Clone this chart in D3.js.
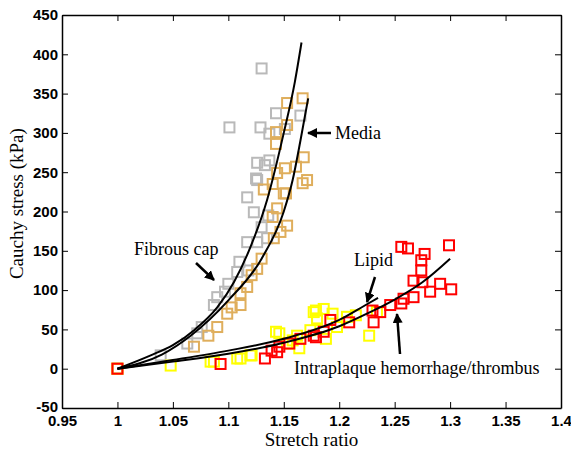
<!DOCTYPE html>
<html>
<head>
<meta charset="utf-8">
<script src="https://cdn.jsdelivr.net/npm/d3@7"></script>
<style>
  body { margin: 0; background: #fff; }
  svg text { fill: #000; }
</style>
</head>
<body>
<svg id="chart" width="571" height="452"></svg>
<script>
// x ticks and y ticks
const xTicks = [0.95, 1, 1.05, 1.1, 1.15, 1.2, 1.25, 1.3, 1.35, 1.4];
const yTicks = [-50, 0, 50, 100, 150, 200, 250, 300, 350, 400, 450];

// measured points [stretch, stress]
const fibrousCap = [
  [1.0, 0], [1.039, 17], [1.063, 32], [1.072, 45], [1.076, 53], [1.087, 81], [1.090, 91],
  [1.097, 98], [1.100, 108], [1.108, 123], [1.118, 125], [1.110, 136], [1.117, 161],
  [1.126, 161], [1.135, 166], [1.130, 180], [1.136, 195], [1.123, 199], [1.117, 218],
  [1.126, 240], [1.125, 242], [1.133, 259], [1.126, 262], [1.137, 265], [1.137, 299],
  [1.151, 305], [1.101, 307], [1.129, 307], [1.165, 322], [1.143, 325], [1.130, 382]
];
const media = [
  [1.0, 0], [1.069, 28], [1.082, 42], [1.090, 53], [1.099, 70], [1.103, 78], [1.111, 81],
  [1.111, 96], [1.117, 104], [1.121, 119], [1.126, 127], [1.130, 140], [1.141, 166],
  [1.147, 174], [1.153, 182], [1.140, 193], [1.144, 204], [1.150, 223], [1.152, 223],
  [1.132, 228], [1.140, 235], [1.167, 236], [1.171, 240], [1.144, 249], [1.151, 255],
  [1.161, 257], [1.168, 269], [1.143, 286], [1.143, 301], [1.153, 310], [1.153, 338],
  [1.167, 344]
];
const lipid = [
  [1.0, 0], [1.048, 4], [1.084, 9], [1.087, 9], [1.111, 13], [1.108, 13], [1.121, 17],
  [1.120, 17], [1.164, 26], [1.153, 32], [1.158, 36], [1.188, 38], [1.162, 42],
  [1.227, 42], [1.146, 45], [1.143, 47], [1.174, 49], [1.198, 53], [1.180, 62],
  [1.180, 64], [1.207, 66], [1.215, 68], [1.194, 70], [1.177, 72], [1.234, 72],
  [1.179, 74], [1.186, 76]
];
const hemorrhage = [
  [1.0, 0], [1.093, 6], [1.133, 13], [1.144, 21], [1.139, 23], [1.146, 28], [1.155, 32],
  [1.165, 38], [1.179, 40], [1.177, 42], [1.186, 47], [1.209, 59], [1.231, 59],
  [1.192, 62], [1.230, 74], [1.237, 72], [1.246, 81], [1.256, 83], [1.258, 89],
  [1.267, 91], [1.282, 98], [1.301, 101], [1.291, 108], [1.275, 110], [1.267, 112],
  [1.274, 125], [1.274, 138], [1.277, 146], [1.262, 153], [1.256, 155], [1.299, 157]
];

// fitted curves
const fitFibrousCap = [[1.0, 0], [1.03, 17], [1.05, 30], [1.07, 50], [1.09, 78], [1.105, 110],
  [1.12, 155], [1.135, 215], [1.15, 300], [1.16, 365], [1.166, 415]];
const fitMedia = [[1.0, 0], [1.04, 18], [1.066, 42], [1.1, 87], [1.13, 140], [1.15, 200],
  [1.158, 240], [1.165, 290], [1.172, 344]];
const fitLipid = [[1.0, 0], [1.05, 11], [1.1, 23], [1.15, 38], [1.2, 62], [1.225, 82], [1.235, 90]];
const fitHemorrhage = [[1.0, 0], [1.05, 9], [1.1, 19], [1.15, 33], [1.2, 54], [1.225, 70],
  [1.25, 88], [1.275, 110], [1.3, 140]];

const svg = d3.select("#chart");
const margin = {left: 62, right: 10, top: 15, bottom: 44};
const width = 571, height = 452;

const xScale = d3.scaleLinear().domain([0.95, 1.4]).range([margin.left, width - margin.right]);
const yScale = d3.scaleLinear().domain([-50, 450]).range([height - margin.bottom, margin.top]);

const tickFont = "'Liberation Sans Narrow', 'Arial Narrow', 'Liberation Sans', Arial, sans-serif";
const serif = "'Liberation Serif', 'Times New Roman', serif";

// axes with inward ticks, box style
const axisBottom = svg.append("g")
  .attr("transform", `translate(0,${yScale(-50)})`)
  .call(d3.axisBottom(xScale).tickValues(xTicks).tickSizeInner(-6).tickSizeOuter(0)
    .tickFormat(d => String(d)));

const axisLeft = svg.append("g")
  .attr("transform", `translate(${margin.left},0)`)
  .call(d3.axisLeft(yScale).tickValues(yTicks).tickSizeInner(-6).tickSizeOuter(0)
    .tickFormat(d => String(d)));
axisLeft.selectAll("text").attr("x", -4);
axisLeft.selectAll("text").filter(d => d === -50).attr("dy", "0.2em");

svg.append("g")
  .attr("transform", `translate(0,${yScale(450)})`)
  .call(d3.axisTop(xScale).tickValues(xTicks).tickSizeInner(-6).tickSizeOuter(0).tickFormat(""));
svg.append("g")
  .attr("transform", `translate(${xScale(1.4)},0)`)
  .call(d3.axisRight(yScale).tickValues(yTicks).tickSizeInner(-6).tickSizeOuter(0).tickFormat(""));

svg.selectAll(".domain").attr("stroke", "#000").attr("stroke-width", 1.5);
svg.selectAll(".tick line").attr("stroke", "#000").attr("stroke-width", 1);
svg.selectAll(".tick text")
  .style("font-family", tickFont)
  .style("font-weight", "bold")
  .style("font-size", "15px")
  .attr("fill", "#000");
axisBottom.selectAll("text").attr("y", 7);

// axis titles
svg.append("text")
  .attr("x", (xScale(0.95) + xScale(1.4)) / 2)
  .attr("y", 446)
  .attr("text-anchor", "middle")
  .style("font-family", serif)
  .style("font-size", "19px")
  .text("Stretch ratio");

svg.append("text")
  .attr("transform", `translate(23,${yScale(210)}) rotate(-90)`)
  .attr("text-anchor", "middle")
  .style("font-family", serif)
  .style("font-size", "19px")
  .text("Cauchy stress (kPa)");

// scatter squares
const sq = 10;
function drawSquares(data, color) {
  svg.append("g").selectAll("rect")
    .data(data)
    .enter().append("rect")
    .attr("x", d => xScale(d[0]) - sq / 2)
    .attr("y", d => yScale(d[1]) - sq / 2)
    .attr("width", sq)
    .attr("height", sq)
    .attr("fill", "none")
    .attr("stroke", color)
    .attr("stroke-width", 2);
}
drawSquares(fibrousCap, "#b9b9b9");
drawSquares(media, "#dfae5c");
drawSquares(lipid, "#ffff00");
drawSquares(hemorrhage, "#ff0000");

// fitted lines
const line = d3.line()
  .x(d => xScale(d[0]))
  .y(d => yScale(d[1]))
  .curve(d3.curveMonotoneX);

[fitFibrousCap, fitMedia, fitLipid, fitHemorrhage].forEach(fit => {
  svg.append("path")
    .datum(fit)
    .attr("fill", "none")
    .attr("stroke", "#000")
    .attr("stroke-width", 2)
    .attr("d", line);
});

// annotations
svg.append("defs").append("marker")
  .attr("id", "arrow")
  .attr("viewBox", "0 0 10 10")
  .attr("refX", 9).attr("refY", 5)
  .attr("markerWidth", 4).attr("markerHeight", 4)
  .attr("orient", "auto")
  .append("path")
  .attr("d", "M0,0 L10,5 L0,10 z")
  .attr("fill", "#000");

const notes = [
  {text: "Media", tx: 335, ty: 139, x1: 331, y1: 133, x2: 308, y2: 133},
  {text: "Fibrous cap", tx: 134, ty: 255, x1: 196, y1: 263, x2: 214, y2: 280},
  {text: "Lipid", tx: 354, ty: 266, x1: 375, y1: 277, x2: 367, y2: 302},
  {text: "Intraplaque hemorrhage/thrombus", tx: 294, ty: 374, x1: 400, y1: 354, x2: 397, y2: 314}
];

notes.forEach(n => {
  svg.append("text")
    .attr("x", n.tx)
    .attr("y", n.ty)
    .style("font-family", serif)
    .style("font-size", "18px")
    .text(n.text);
  svg.append("line")
    .attr("x1", n.x1).attr("y1", n.y1)
    .attr("x2", n.x2).attr("y2", n.y2)
    .attr("stroke", "#000")
    .attr("stroke-width", 2.5)
    .attr("marker-end", "url(#arrow)");
});
</script>
</body>
</html>
